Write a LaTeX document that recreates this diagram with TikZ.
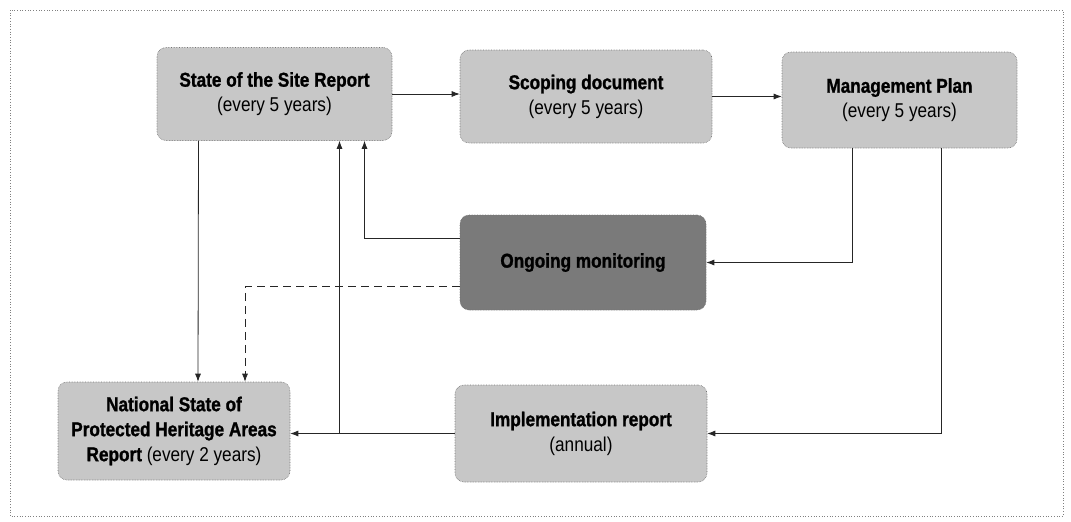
\documentclass[tikz,border=0pt]{standalone}
\usepackage{fontspec}
\setmainfont{Liberation Sans}[FakeStretch=0.86, BoldFeatures={FakeBold=1.2}]
\usetikzlibrary{arrows.meta}
\begin{document}
\begin{tikzpicture}[x=1pt,y=-1pt,
  box/.style={draw=black!55, line width=0.6pt, densely dotted, rounded corners=9pt, fill=black!22, align=center, inner sep=0pt, font=\fontsize{20}{25}\selectfont},
  darkbox/.style={box, fill=black!52},
  arr/.style={-{Latex[length=8pt,width=6pt]}, line width=0.8pt, black!85},
]
\useasboundingbox (0,0) rectangle (1071,522);
\draw[black!50, dotted, line width=0.7pt] (10,10) rectangle (1063,516);

\node[box, minimum width=235pt, minimum height=93pt] (state) at (274.5,94) {\textbf{State of the Site Report}\\(every 5 years)};
\node[box, minimum width=252pt, minimum height=93pt] (scope) at (586,96.5) {\textbf{Scoping document}\\(every 5 years)};
\node[box, minimum width=235pt, minimum height=96pt] (mgmt) at (899.5,100) {\textbf{Management Plan}\\(every 5 years)};
\node[darkbox, minimum width=246pt, minimum height=95pt] (ongo) at (583,262.5) {\textbf{Ongoing monitoring}};
\node[box, minimum width=232pt, minimum height=98pt] (natl) at (174,431) {\textbf{National State of}\\\textbf{Protected Heritage Areas}\\\textbf{Report} (every 2 years)};
\node[box, minimum width=252pt, minimum height=97pt] (impl) at (581,433.5) {\textbf{Implementation report}\\(annual)};

\coordinate (sj) at ([xshift=65]state.south);
\coordinate (so) at ([xshift=90]state.south);
\coordinate (m1) at ([xshift=-47]mgmt.south);
\coordinate (m2) at ([xshift=42]mgmt.south);

\draw[arr] (state.east) -- (scope.west |- state.east);
\draw[arr] (scope.east) -- (mgmt.west |- scope.east);
\draw[arr] ([xshift=-76]state.south) -- ([xshift=24]natl.north);
\draw[arr] ([yshift=24]ongo.west) -| (so);
\draw[arr] (impl.west) -- (natl.east |- impl.west);
\draw[arr] (sj |- impl.west) -- (sj);
\draw[arr] (m1) |- (ongo.east);
\draw[arr] (m2) |- (impl.east);
\draw[arr, dashed, dash pattern=on 8pt off 5pt] ([yshift=-24]ongo.west) -| ([xshift=71]natl.north);
\end{tikzpicture}
\end{document}
